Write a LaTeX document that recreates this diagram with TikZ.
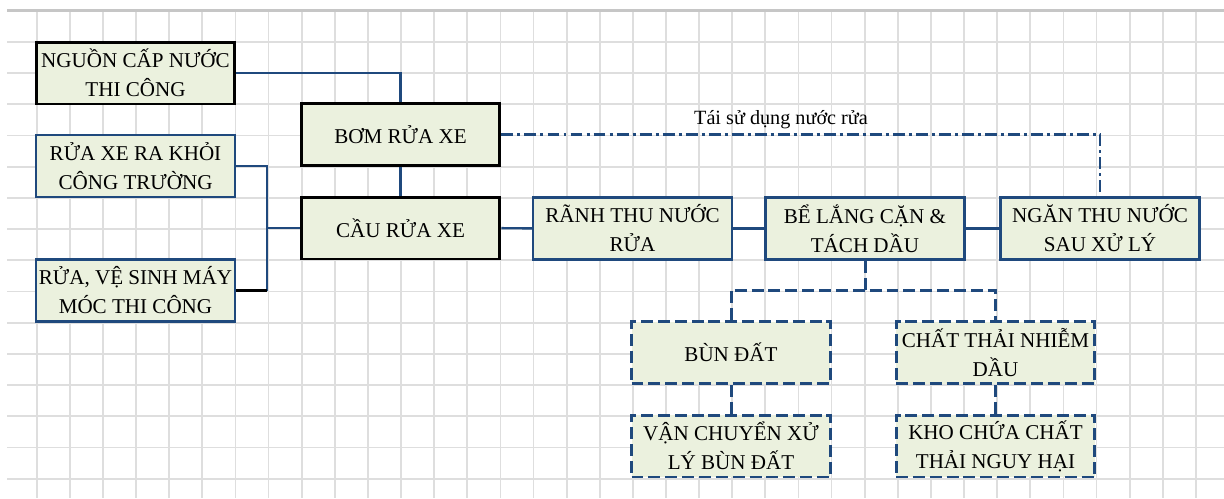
\documentclass[tikz,border=0pt]{standalone}
\usepackage{fontspec}
\setmainfont{Liberation Serif}
\definecolor{cellfill}{HTML}{EBF1DE}
\definecolor{linkblue}{HTML}{1F497D}
\definecolor{gridgray}{HTML}{DEDEDE}
\begin{document}
\begin{tikzpicture}[
  x=0.02cm, y=-0.02cm,
  box/.style={draw=linkblue, line width=1.4pt, fill=cellfill, align=center, minimum width=3.98cm, minimum height=1.24cm, inner sep=0pt, font=\fontsize{12}{16.5}\selectfont},
  thickbox/.style={box, draw=black, line width=1.7pt},
  dashbox/.style={box, line width=1.7pt, dash pattern=on 6.8pt off 2.8pt},
  wire/.style={draw=linkblue, line width=1.4pt},
  blackwire/.style={draw=black, line width=1.4pt},
  dashwire/.style={wire, line width=1.7pt, dash pattern=on 6.8pt off 2.8pt},
  reuse/.style={wire, line width=1.5pt, dash pattern=on 6.8pt off 2.3pt on 1.7pt off 2.3pt},
  gridline/.style={draw=gridgray, line width=1pt}
]
\useasboundingbox (0,0) rectangle (1224,498);
% spreadsheet grid
\foreach \gx in {0,...,35}
  \draw[gridline] ({36.7+33.12*\gx},10.7) -- ({36.7+33.12*\gx},498);
\foreach \gy in {1,...,15}
  \draw[gridline] (7,{10.7+31.2*\gy}) -- (1224,{10.7+31.2*\gy});
\draw[gridline, line width=1.4pt, draw=gray!45] (7,10.7) -- (1224,10.7);

% left column
\node[thickbox] (nguon) at (135.5,73) {NGUỒN CẤP NƯỚC\\THI CÔNG};
\node[box] (raxe) at (135.5,166) {RỬA XE RA KHỎI\\CÔNG TRƯỜNG};
\node[box] (mayMoc) at (135.5,290.5) {RỬA, VỆ SINH MÁY\\MÓC THI CÔNG};
% pump and wash bay
\node[thickbox] (bom) at (400.5,134.5) {BƠM RỬA XE};
\node[thickbox] (cau) at (400.5,228) {CẦU RỬA XE};
% treatment line
\node[box] (ranh) at (632.5,228.5) {RÃNH THU NƯỚC\\RỬA};
\node[box] (be) at (865,228.5) {BỂ LẮNG CẶN \&\\TÁCH DẦU};
\node[box] (ngan) at (1100,228.5) {NGĂN THU NƯỚC\\SAU XỬ LÝ};
% residues
\node[dashbox] (bun) at (731,352.5) {BÙN ĐẤT};
\node[dashbox] (chatThai) at (995.5,352.5) {CHẤT THẢI NHIỄM\\DẦU};
\node[dashbox] (vanChuyen) at (731,446) {VẬN CHUYỂN XỬ\\LÝ BÙN ĐẤT};
\node[dashbox] (kho) at (995.5,446) {KHO CHỨA CHẤT\\THẢI NGUY HẠI};

\coordinate (busEnd) at (267,290.5);
\coordinate (split) at (865,290);

\draw[wire] (nguon.east) -| (bom.north);
\draw[wire] (bom) -- (cau);
\draw[wire] (raxe.east) -| (busEnd);
\draw[blackwire] (mayMoc.east) -- (busEnd);
\draw[wire] (cau.west) -- (cau.west -| busEnd);
\draw[wire] (cau) -- (ranh);
\draw[wire] (ranh) -- (be);
\draw[wire] (be) -- (ngan);

\draw[reuse] (bom.east) -| (ngan.north);
\node[font=\fontsize{11.5}{13}\selectfont] (reuseLabel) at (781,120) {Tái sử dụng nước rửa};

\draw[dashwire] (be.south) -- (split);
\draw[dashwire] (bun.north) |- (split) -| (chatThai.north);
\draw[dashwire] (bun) -- (vanChuyen);
\draw[dashwire] (chatThai) -- (kho);
\end{tikzpicture}
\end{document}
